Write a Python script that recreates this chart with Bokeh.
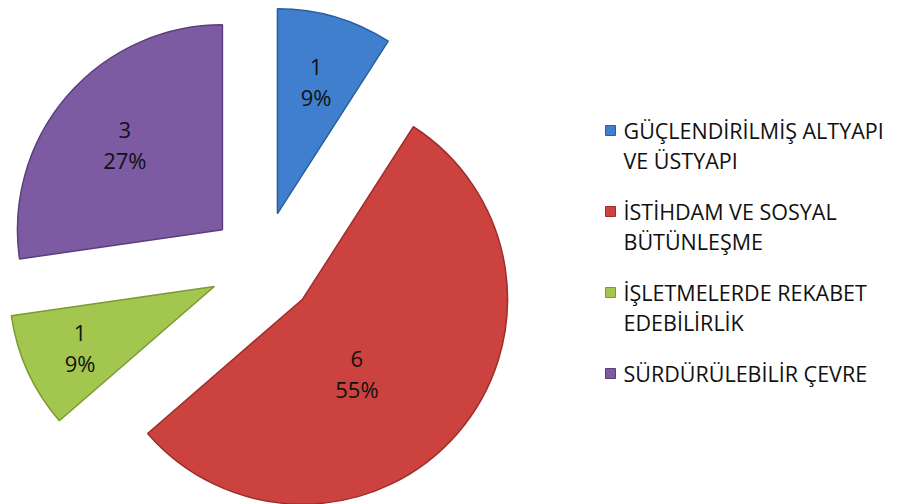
import math
from bokeh.plotting import figure
from bokeh.models import Range1d
from bokeh.core.properties import value
from bokeh.embed import file_html
from bokeh.resources import INLINE

# ---- data ----
categories = ["GÜÇLENDİRİLMİŞ ALTYAPI VE ÜSTYAPI",
              "İSTİHDAM VE SOSYAL BÜTÜNLEŞME",
              "İŞLETMELERDE REKABET EDEBİLİRLİK",
              "SÜRDÜRÜLEBİLİR ÇEVRE"]
legend_lines = [["GÜÇLENDİRİLMİŞ ALTYAPI", "VE ÜSTYAPI"],
                ["İSTİHDAM VE SOSYAL", "BÜTÜNLEŞME"],
                ["İŞLETMELERDE REKABET", "EDEBİLİRLİK"],
                ["SÜRDÜRÜLEBİLİR ÇEVRE"]]
values = [1, 6, 1, 3]
colors = ["#3F7FCD", "#CC423F", "#A3C64E", "#7C5BA2"]
edge_colors = ["#2C5E9E", "#9E2E2B", "#7A9A33", "#5A3F7C"]
label_frac = [0.67, 0.45, 0.72, 0.63]
label_shift = [0, 13, 0, 0]   # degrees, clockwise

W, H = 911, 504
FONT = "Open Sans"

p = figure(width=W, height=H, output_backend="svg", toolbar_location=None,
           x_range=Range1d(0, W), y_range=Range1d(0, H), min_border=0)
p.axis.visible = False
p.grid.visible = False
p.outline_line_color = None
p.background_fill_color = "white"
p.border_fill_color = "white"

cx, cy = 262, H - 264   # pie centre (data coords, y up)
R = 205
explode = 53

total = sum(values)
cum = 0.0
lx, ly, t1, t2 = [], [], [], []
for i, v in enumerate(values):
    a0 = cum / total * 360.0          # clockwise from 12 o'clock
    a1 = (cum + v) / total * 360.0
    cum += v
    mid = (a0 + a1) / 2.0
    phi = math.radians(90 - mid)
    ox = cx + explode * math.cos(phi)
    oy = cy + explode * math.sin(phi)
    p.wedge(x=ox, y=oy, radius=R,
            start_angle=math.radians(90 - a0), end_angle=math.radians(90 - a1),
            direction="clock",
            fill_color=colors[i], line_color=edge_colors[i], line_width=1.5)
    r = label_frac[i] * R
    lphi = math.radians(90 - mid - label_shift[i])
    lx.append(ox + r * math.cos(lphi))
    ly.append(oy + r * math.sin(lphi))
    t1.append(str(v))
    t2.append(f"{round(v / total * 100)}%")

p.text(x=lx, y=ly, text=t1, y_offset=-15, text_align="center", text_baseline="middle",
       text_font=value(FONT), text_font_size="22px", text_color="#111111")
p.text(x=lx, y=ly, text=t2, y_offset=15, text_align="center", text_baseline="middle",
       text_font=value(FONT), text_font_size="22px", text_color="#111111")

# ---- legend ----
leg_x_marker = 610
leg_x_text = 623
y = 130
line_gap = 30
item_gap = 51
for i, lines in enumerate(legend_lines):
    p.rect(x=leg_x_marker, y=H - y, width=10, height=10,
           fill_color=colors[i], line_color=edge_colors[i], line_width=1)
    for j, t in enumerate(lines):
        p.text(x=[leg_x_text], y=[H - (y + j * line_gap)], text=[t],
               text_align="left", text_baseline="middle",
               text_font=value(FONT), text_font_size="21.5px", text_color="#111111")
    y += (len(lines) - 1) * line_gap + item_gap

open("out.html", "w").write(file_html(p, INLINE))
